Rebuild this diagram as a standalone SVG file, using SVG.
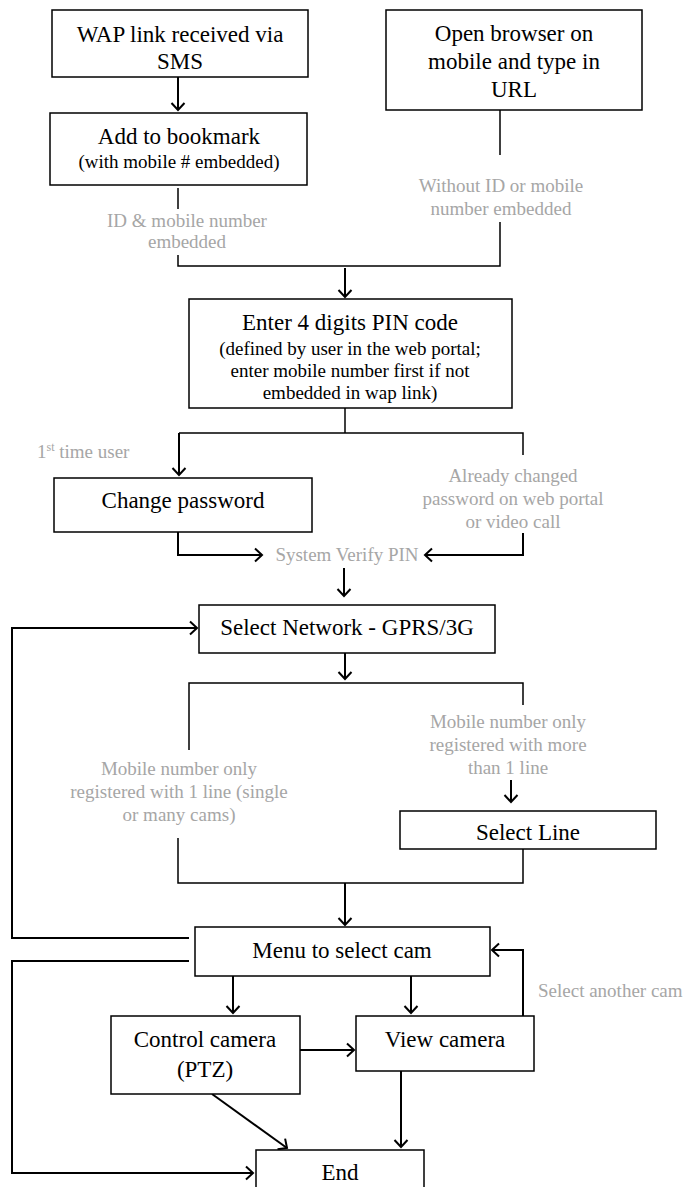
<svg xmlns="http://www.w3.org/2000/svg" width="686" height="1187" viewBox="0 0 686 1187">
<defs>
<marker id="arr" viewBox="-9 -9 18 18" refX="0" refY="0" markerWidth="18" markerHeight="18" markerUnits="userSpaceOnUse" orient="auto">
<path d="M-7,-6.5 L0,0 L-7,6.5" fill="none" stroke="#000" stroke-width="2"/>
</marker>
</defs>
<style>
.box{fill:#fff;stroke:#000;stroke-width:1.5}
text{font-family:'Liberation Serif','DejaVu Serif',serif}
.t{font-size:23px;fill:#000;text-anchor:middle}
.s{font-size:19px;fill:#000;text-anchor:middle}
.g{font-size:19px;fill:#a6a6a6;text-anchor:middle}
.st{text-anchor:start}
.ln{fill:none;stroke:#000;stroke-width:1.5}
.ar{fill:none;stroke:#000;stroke-width:2;marker-end:url(#arr)}
</style>
<rect width="686" height="1187" fill="#fff"/>
<g id="connectors">
<path class="ar" d="M178,77 L178,110"/>
<path class="ln" d="M178,188 L178,209"/>
<path class="ln" d="M178,255 L178,266 L500,266 L500,222"/>
<path class="ln" d="M500,110 L500,155"/>
<path class="ar" d="M345,268 L345,297"/>
<path class="ln" d="M345,408 L345,433"/>
<path class="ln" d="M179,433 L523,433 L523,455"/>
<path class="ar" d="M179,433 L179,475"/>
<path class="ar" d="M178,532 L178,555 L262,555"/>
<path class="ar" d="M523,533 L523,555 L425,555"/>
<path class="ar" d="M344,568 L344,596"/>
<path class="ar" d="M189,938 L12,938 L12,628 L197,628"/>
<path class="ar" d="M345,653 L345,679"/>
<path class="ln" d="M189,750 L189,683 L523,683 L523,705"/>
<path class="ln" d="M178,838 L178,883 L523,883 L523,849"/>
<path class="ar" d="M511,780 L511,802"/>
<path class="ar" d="M345,883 L345,925"/>
<path class="ar" d="M189,961 L12,961 L12,1173 L253,1173"/>
<path class="ar" d="M233,976 L233,1013"/>
<path class="ar" d="M411,976 L411,1013"/>
<path class="ar" d="M300,1050 L354,1050"/>
<path class="ar" d="M523,1016 L523,950 L492,950"/>
<path class="ar" d="M401,1071 L401,1147"/>
<path class="ar" d="M212,1094 L287,1148"/>
</g>
<g id="labels" font-family="Liberation Serif, serif">
<text class="g" x="187" y="227">ID &amp; mobile number</text>
<text class="g" x="187" y="248">embedded</text>
<text class="g" x="501" y="192">Without ID or mobile</text>
<text class="g" x="501" y="215">number embedded</text>
<text class="g st" x="37" y="458">1<tspan font-size="12" dy="-7">st</tspan><tspan dy="7"> time user</tspan></text>
<text class="g" x="513" y="482">Already changed</text>
<text class="g" x="513" y="505">password on web portal</text>
<text class="g" x="513" y="528">or video call</text>
<text class="g" x="347" y="561">System Verify PIN</text>
<text class="g" x="179" y="775">Mobile number only</text>
<text class="g" x="179" y="798">registered with 1 line (single</text>
<text class="g" x="179" y="821">or many cams)</text>
<text class="g" x="508" y="728">Mobile number only</text>
<text class="g" x="508" y="751">registered with more</text>
<text class="g" x="508" y="774">than 1 line</text>
<text class="g st" x="538" y="997">Select another cam</text>
</g>
<g id="wap"><rect class="box" x="52" y="10" width="256" height="67"/>
<text class="t" x="180" y="42">WAP link received via</text><text class="t" x="180" y="69">SMS</text></g>
<g id="browser"><rect class="box" x="386" y="10" width="256" height="100"/>
<text class="t" x="514" y="41">Open browser on</text><text class="t" x="514" y="69">mobile and type in</text><text class="t" x="514" y="97">URL</text></g>
<g id="bookmark"><rect class="box" x="50" y="113" width="257" height="72"/>
<text class="t" x="179" y="144">Add to bookmark</text><text class="s" x="179" y="168">(with mobile # embedded)</text></g>
<g id="pin"><rect class="box" x="189" y="299" width="323" height="109"/>
<text class="t" x="350" y="330">Enter 4 digits PIN code</text>
<text class="s" x="350" y="355">(defined by user in the web portal;</text>
<text class="s" x="350" y="377">enter mobile number first if not</text>
<text class="s" x="350" y="399">embedded in wap link)</text></g>
<g id="changepw"><rect class="box" x="54" y="478" width="258" height="54"/>
<text class="t" x="183" y="508">Change password</text></g>
<g id="network"><rect class="box" x="199" y="605" width="296" height="48"/>
<text class="t" x="347" y="635">Select Network - GPRS/3G</text></g>
<g id="selectline"><rect class="box" x="400" y="811" width="256" height="38"/>
<text class="t" x="528" y="840">Select Line</text></g>
<g id="menu"><rect class="box" x="195" y="927" width="295" height="49"/>
<text class="t" x="342" y="958">Menu to select cam</text></g>
<g id="control"><rect class="box" x="111" y="1016" width="189" height="78"/>
<text class="t" x="205" y="1047">Control camera</text><text class="t" x="205" y="1077">(PTZ)</text></g>
<g id="view"><rect class="box" x="356" y="1016" width="178" height="55"/>
<text class="t" x="445" y="1047">View camera</text></g>
<g id="end"><rect class="box" x="256" y="1150" width="168" height="45"/>
<text class="t" x="340" y="1180">End</text></g>
</svg>
